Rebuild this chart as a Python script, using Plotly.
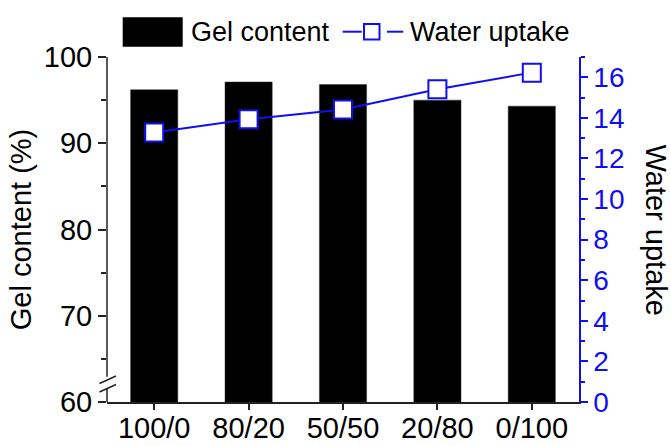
import plotly.graph_objects as go

# ---- data ----
categories = ["100/0", "80/20", "50/50", "20/80", "0/100"]
gel_content = [96.2, 97.1, 96.8, 95.0, 94.3]
water_uptake = [13.28, 13.93, 14.41, 15.41, 16.23]

FONT = "Liberation Sans, Arial, sans-serif"
BLUE = "#0F0FF0"

W, H = 671, 446
ML, MR, MT, MB = 107, 92, 57, 44
PW, PH = W - ML - MR, H - MT - MB


def px(x):  # pixel x -> paper
    return (x - ML) / PW


def py(y):  # pixel y -> paper
    return (H - MB - y) / PH


fig = go.Figure()
fig.add_trace(go.Bar(
    x=categories, y=gel_content, width=0.5,
    marker=dict(color="black", line=dict(color="#333", width=0.5)),
    name="Gel content", showlegend=False, yaxis="y",
))
fig.add_trace(go.Scatter(
    x=categories, y=water_uptake, mode="lines+markers",
    line=dict(color=BLUE, width=2),
    marker=dict(symbol="square", size=18, color="white",
                line=dict(color=BLUE, width=2)),
    name="Water uptake", showlegend=False, yaxis="y2",
))

shapes = []
# left axis line with break
shapes.append(dict(type="line", xref="paper", yref="paper",
                   x0=0, x1=0, y0=py(376.7), y1=1,
                   line=dict(color="#222", width=1.5)))
shapes.append(dict(type="line", xref="paper", yref="paper",
                   x0=0, x1=0, y0=0, y1=py(388),
                   line=dict(color="#222", width=1.5)))
# break slashes
shapes.append(dict(type="line", xref="paper", yref="paper",
                   x0=px(99.5), x1=px(116), y0=py(383.5), y1=py(376),
                   line=dict(color="#222", width=1.5)))
shapes.append(dict(type="line", xref="paper", yref="paper",
                   x0=px(99.5), x1=px(116), y0=py(392), y1=py(384.5),
                   line=dict(color="#222", width=1.5)))
# manual legend
shapes.append(dict(type="rect", xref="paper", yref="paper",
                   x0=px(122.7), x1=px(182.7), y0=py(46.7), y1=py(17.3),
                   fillcolor="black", line=dict(width=0)))
shapes.append(dict(type="line", xref="paper", yref="paper",
                   x0=px(342.7), x1=px(361.7), y0=py(31.7), y1=py(31.7),
                   line=dict(color=BLUE, width=2)))
shapes.append(dict(type="line", xref="paper", yref="paper",
                   x0=px(387), x1=px(403.3), y0=py(31.7), y1=py(31.7),
                   line=dict(color=BLUE, width=2)))
shapes.append(dict(type="rect", xref="paper", yref="paper",
                   x0=px(364), x1=px(379.5), y0=py(39.5), y1=py(24),
                   fillcolor="white", line=dict(color=BLUE, width=2)))

annotations = [
    dict(text="Gel content", xref="paper", yref="paper", x=px(189), y=py(32),
         xanchor="left", yanchor="middle", showarrow=False,
         font=dict(family=FONT, size=27, color="black")),
    dict(text="Water uptake", xref="paper", yref="paper", x=px(408), y=py(32),
         xanchor="left", yanchor="middle", showarrow=False,
         font=dict(family=FONT, size=27, color="black")),
    dict(text="Water uptake", xref="paper", yref="paper", x=px(656), y=0.5,
         xanchor="center", yanchor="middle", showarrow=False, textangle=90,
         font=dict(family=FONT, size=29, color="black")),
]

fig.update_layout(
    width=W, height=H,
    margin=dict(l=ML, r=MR, t=MT, b=MB, pad=0),
    paper_bgcolor="white", plot_bgcolor="white",
    font=dict(family=FONT, size=28, color="black"),
    showlegend=False,
    bargap=0.5,
    xaxis=dict(
        type="category", range=[-0.5, 4.5], automargin=False,
        showline=True, linecolor="#222", linewidth=1.5,
        ticks="outside", ticklen=6, tickwidth=1.5, tickcolor="#222",
        ticklabelstandoff=-7,
        showgrid=False, zeroline=False,
        tickfont=dict(family=FONT, size=29, color="black"),
    ),
    yaxis=dict(
        range=[60, 100], tickvals=[60, 70, 80, 90, 100], automargin=False,
        showline=False, ticks="outside", ticklen=8, tickwidth=1.5,
        tickcolor="#222", showgrid=False, zeroline=False,
        minor=dict(dtick=5, tick0=60, ticks="outside", ticklen=5,
                   tickwidth=1.5, tickcolor="#222", showgrid=False),
        tickfont=dict(family=FONT, size=29, color="black"),
        title=dict(text="Gel content (%)", standoff=3,
                   font=dict(family=FONT, size=29, color="black")),
    ),
    yaxis2=dict(
        overlaying="y", side="right", range=[0, 17], automargin=False,
        tickvals=[0, 2, 4, 6, 8, 10, 12, 14, 16],
        showline=True, linecolor=BLUE, linewidth=1.5,
        ticks="outside", ticklen=7, tickwidth=1.5, tickcolor=BLUE,
        minor=dict(dtick=1, tick0=0, ticks="outside", ticklen=4,
                   tickwidth=1.5, tickcolor=BLUE, showgrid=False),
        showgrid=False, zeroline=False,
        tickfont=dict(family=FONT, size=28, color=BLUE),
    ),
    shapes=shapes,
    annotations=annotations,
)

fig.write_html("out.html")
